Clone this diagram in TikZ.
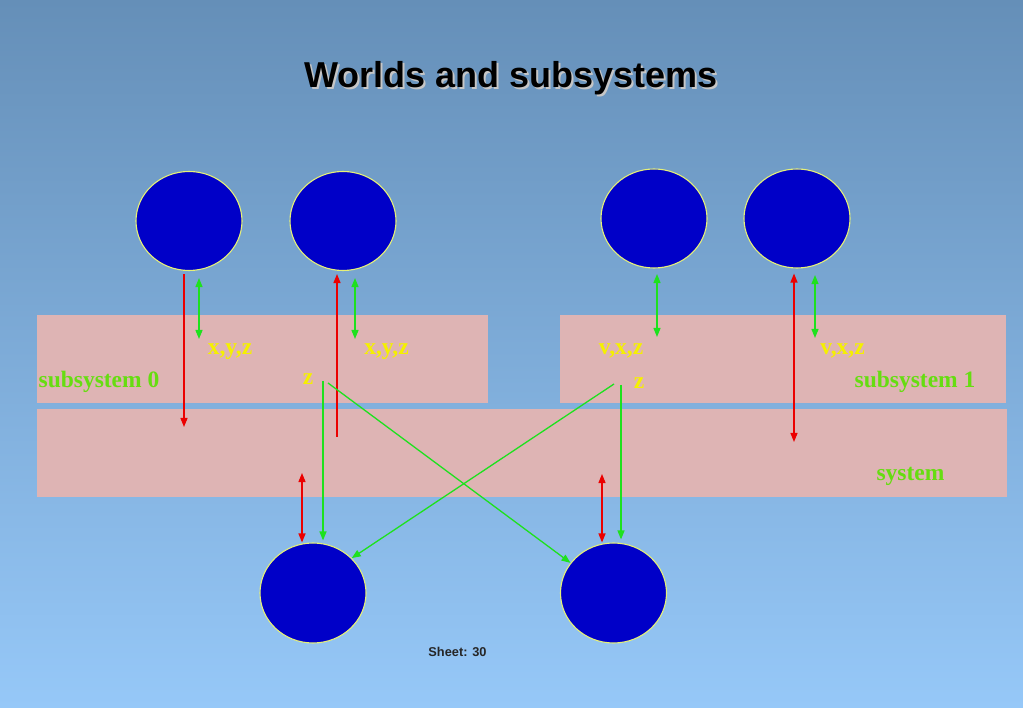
\documentclass[tikz,border=0pt]{standalone}
\usepackage{fontspec}
\setmainfont{Liberation Serif}
\newfontfamily\arialfont{Liberation Sans}
\usetikzlibrary{arrows.meta,calc,shapes.geometric}
\definecolor{bgtop}{RGB}{101,143,184}
\definecolor{bgbot}{RGB}{150,200,248}
\definecolor{pinkbox}{RGB}{222,180,180}
\definecolor{worldblue}{RGB}{0,0,200}
\definecolor{rimyellow}{RGB}{230,240,120}
\definecolor{arrred}{RGB}{235,0,0}
\definecolor{arrgreen}{RGB}{30,225,30}
\definecolor{lblyellow}{RGB}{245,240,0}
\definecolor{lblgreen}{RGB}{102,221,17}
\tikzset{
  world/.style={ellipse,fill=worldblue,draw=rimyellow,line width=1.1pt,inner sep=0pt,minimum width=106pt,minimum height=99pt},
  layerbox/.style={rectangle,fill=pinkbox,draw=none,inner sep=0pt,minimum height=88pt},
  tipa/.tip={Triangle[length=9pt,width=7pt]},
  redarr/.style={draw=arrred,line width=1.3pt},
  greenarr/.style={draw=arrgreen,line width=1.3pt},
  yl/.style={anchor=base,inner sep=0pt,text=lblyellow,font=\fontsize{23.5}{27}\selectfont\bfseries},
  gl/.style={anchor=base,inner sep=0pt,text=lblgreen,font=\fontsize{23.5}{27}\selectfont\bfseries},
}
\begin{document}
\begin{tikzpicture}[x=1pt,y=-1pt]
\useasboundingbox (0,0) rectangle (1023,708);
\shade[top color=bgtop,bottom color=bgbot] (0,0) rectangle (1023,708);
% title
\node[anchor=base,inner sep=0pt,text=gray!45,font=\arialfont\fontsize{36}{40}\selectfont\bfseries] (titleshadow) at (513,90) {Worlds and subsystems};
\node[anchor=base,inner sep=0pt,text=black,font=\arialfont\fontsize{36}{40}\selectfont\bfseries] (title) at (511,88) {Worlds and subsystems};
% layers
\node[layerbox,minimum width=451pt] (sub0) at (262.5,359) {};
\node[layerbox,minimum width=446pt] (sub1) at (783,359) {};
\node[layerbox,minimum width=970pt] (sys) at (522,453) {};
% worlds
\node[world] (w1) at (189,221) {};
\node[world] (w2) at (343,221) {};
\node[world] (w3) at (654,218.5) {};
\node[world] (w4) at (797,218.5) {};
\node[world,minimum height=100pt] (b1) at (313,593) {};
\node[world,minimum height=100pt] (b2) at (613.5,593) {};
% labels
\node[yl] (l1) at (230,355) {x,y,z};
\node[yl] (l2) at (386.5,355) {x,y,z};
\node[yl] (l3) at (308,385) {z};
\node[yl] (l4) at (621,355) {v,x,z};
\node[yl] (l5) at (842.5,355) {v,x,z};
\node[yl] (l6) at (639,389) {z};
\node[gl] (s0) at (99,388) {subsystem 0};
\node[gl] (s1) at (915,388) {subsystem 1};
\node[gl] (s2) at (910.5,480) {system};
\node[anchor=base,inner sep=0pt,text=black!85,font=\arialfont\fontsize{12.8}{15}\selectfont\bfseries] (sheet) at (457.5,656) {Sheet: 30};
% free ends
\coordinate (r1e) at (184,427);
\coordinate (g1e) at (199,339);
\coordinate (r2s) at (337,437);
\coordinate (g2e) at (355,339);
\coordinate (gz1) at (323,381);
\coordinate (gx1) at (328,383);
\coordinate (r3s) at (302,473);
\coordinate (g3e) at (657,337);
\coordinate (gz2) at (621,385);
\coordinate (gx2) at (614,384);
\coordinate (r4s) at (602,474);
\coordinate (r5e) at (794,442);
\coordinate (g4e) at (815,338);
% red arrows
\draw[redarr,-tipa] ($(w1.south)+(-5,3)$) -- (r1e);
\draw[redarr,-tipa] (r2s) -- ($(w2.south)+(-6,3)$);
\draw[redarr,tipa-tipa] (r3s) -- ($(b1.north)+(-11,0)$);
\draw[redarr,tipa-tipa] (r4s) -- ($(b2.north)+(-11.5,0)$);
\draw[redarr,tipa-tipa] ($(w4.south)+(-3,5)$) -- (r5e);
% green arrows
\draw[greenarr,tipa-tipa] ($(w1.south)+(10,7)$) -- (g1e);
\draw[greenarr,tipa-tipa] ($(w2.south)+(12,7)$) -- (g2e);
\draw[greenarr,tipa-tipa] ($(w3.south)+(3,5.5)$) -- (g3e);
\draw[greenarr,tipa-tipa] ($(w4.south)+(18,6.5)$) -- (g4e);
\draw[greenarr,-tipa] (gz1) -- ($(b1.north)+(10,-2)$);
\draw[greenarr,-tipa] (gz2) -- ($(b2.north)+(7.5,-3)$);
\draw[greenarr,-tipa] (gx1) -- (b2.145);
\draw[greenarr,-tipa] (gx2) -- (b1.42);
\end{tikzpicture}
\end{document}
